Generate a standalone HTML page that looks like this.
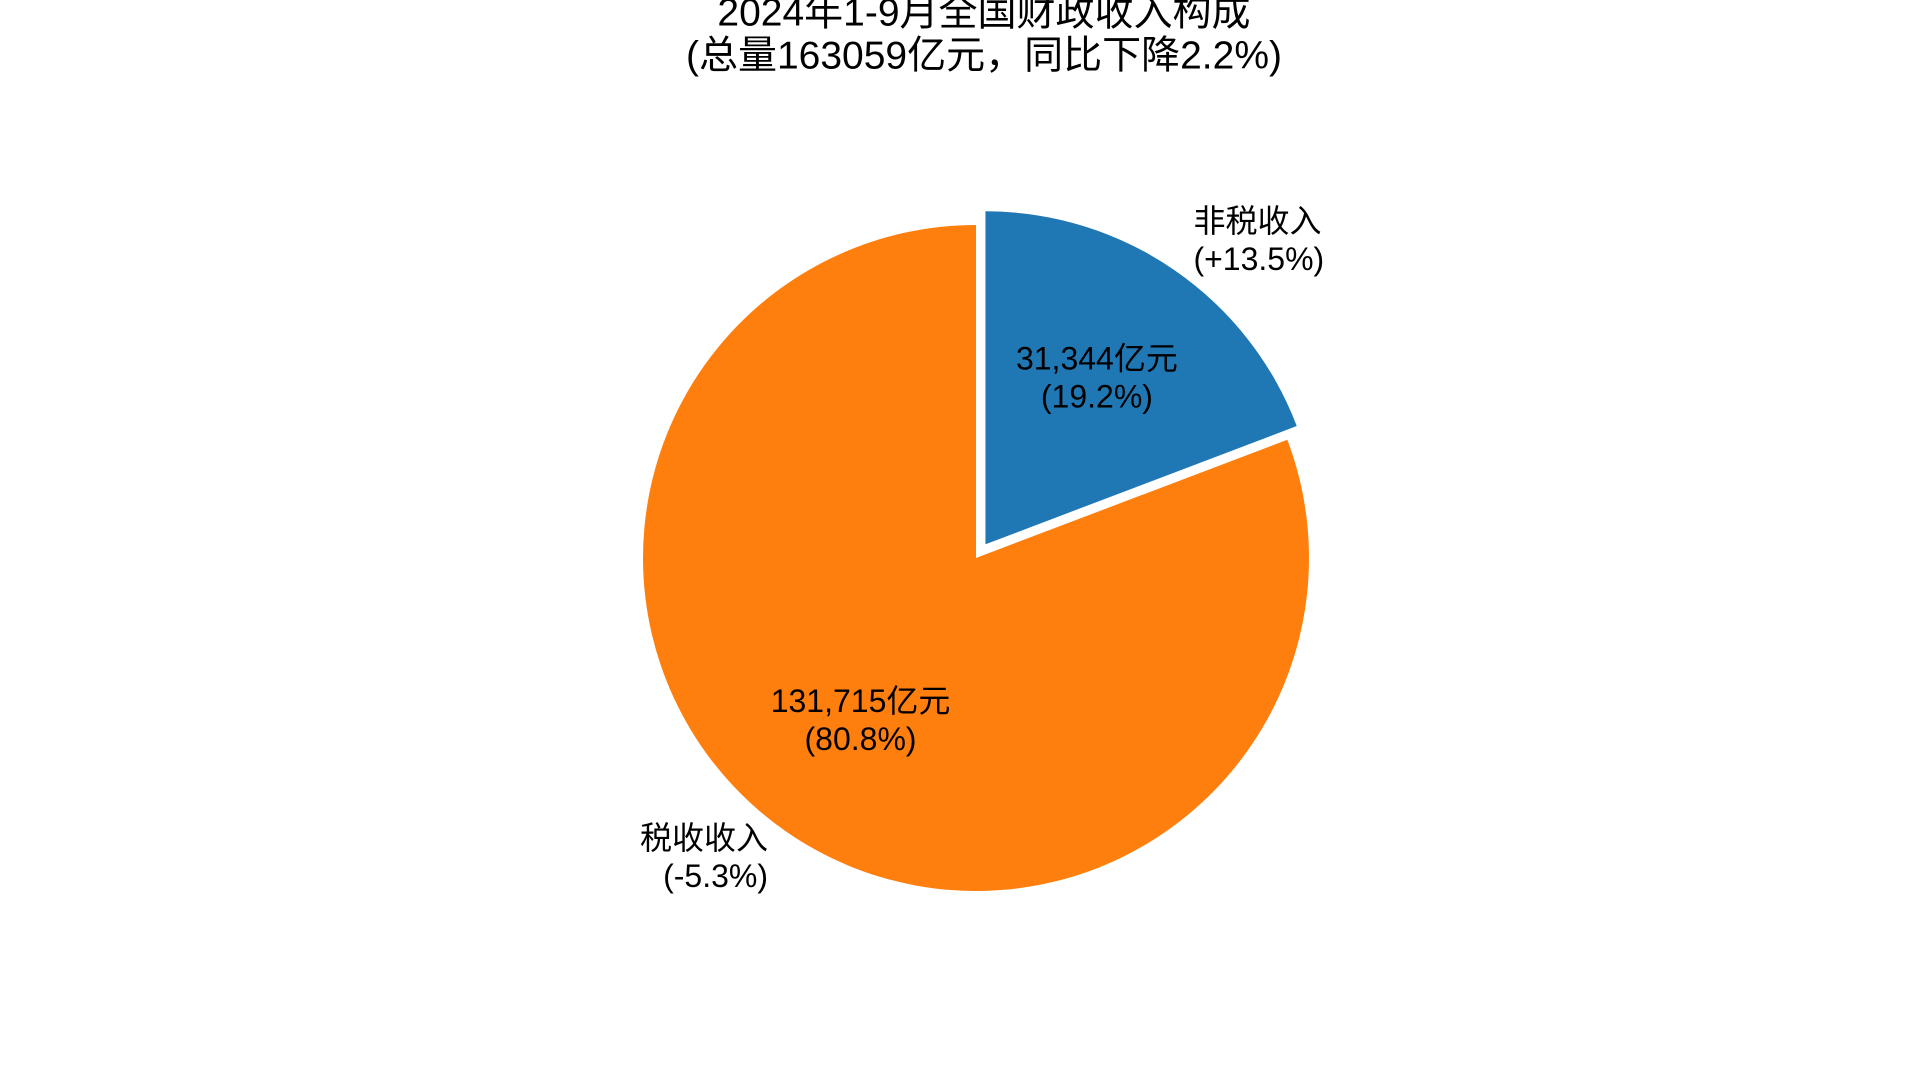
<!DOCTYPE html>
<html><head><meta charset="utf-8">
<style>
html,body{margin:0;padding:0;background:#fff;}
svg{display:block;}
text{font-family:"Liberation Sans","Noto Sans CJK SC",sans-serif;fill:#000;}
</style></head>
<body>
<svg id="chart" width="1920" height="1080" viewBox="0 0 1920 1080">
<text x="984" y="15" font-size="39" text-anchor="middle" dominant-baseline="middle">2024年1-9月全国财政收入构成</text>
<text x="984" y="58" font-size="39" text-anchor="middle" dominant-baseline="middle">(总量163059亿元，同比下降2.2%)</text>
<g id="slices"></g>
<g id="labels"></g>
</svg>
<script>
const categories = ["非税收入", "税收收入"];
const values = [31344, 131715];
const changes = ["+13.5%", "-5.3%"];
const colors = ["#1f77b4", "#ff7f0e"];
const explode = [0.05, 0];

const NS = "http://www.w3.org/2000/svg";
const cx = 976, cy = 558, R = 333, LH = 38;
const total = values.reduce((a, b) => a + b, 0);
const gS = document.getElementById("slices");
const gL = document.getElementById("labels");

function pt(a, r, ox, oy) { return [ox + r * Math.cos(a), oy - r * Math.sin(a)]; }
function addText(x, y, lines, anchor, name) {
  const t = document.createElementNS(NS, "text");
  t.setAttribute("x", x); t.setAttribute("font-size", "32");
  t.setAttribute("text-anchor", anchor);
  
  
  const y0 = y - (lines.length - 1) * LH / 2;
  lines.forEach((s, i) => {
    const sp = document.createElementNS(NS, "tspan");
    sp.setAttribute("x", x); sp.setAttribute("y", y0 + i * LH);
    sp.setAttribute("dominant-baseline", "middle");
    sp.textContent = s;
    t.appendChild(sp);
  });
  gL.appendChild(t);
}

let start = Math.PI / 2;
values.forEach((v, i) => {
  const sweep = v / total * 2 * Math.PI;
  const end = start - sweep;
  const mid = (start + end) / 2;
  const ox = cx + explode[i] * R * Math.cos(mid);
  const oy = cy - explode[i] * R * Math.sin(mid);
  const p1 = pt(start, R, ox, oy), p2 = pt(end, R, ox, oy);
  const large = sweep > Math.PI ? 1 : 0;
  const path = document.createElementNS(NS, "path");
  path.setAttribute("d", `M${ox},${oy} L${p1[0]},${p1[1]} A${R},${R} 0 ${large} 1 ${p2[0]},${p2[1]} Z`);
  path.setAttribute("fill", colors[i]);
  
  
  gS.appendChild(path);
  const pp = pt(mid, 0.6 * R, ox, oy);
  addText(pp[0] - 2, pp[1], [v.toLocaleString("en-US") + "亿元", "(" + (v / total * 100).toFixed(1) + "%)"], "middle", "pct-label-" + i);
  const lp = pt(mid, 1.1 * R, ox, oy);
  addText(lp[0], lp[1], [categories[i], "(" + changes[i] + ")"], Math.cos(mid) >= 0 ? "start" : "end", "category-label-" + i);
  start = end;
});
</script>
</body></html>
